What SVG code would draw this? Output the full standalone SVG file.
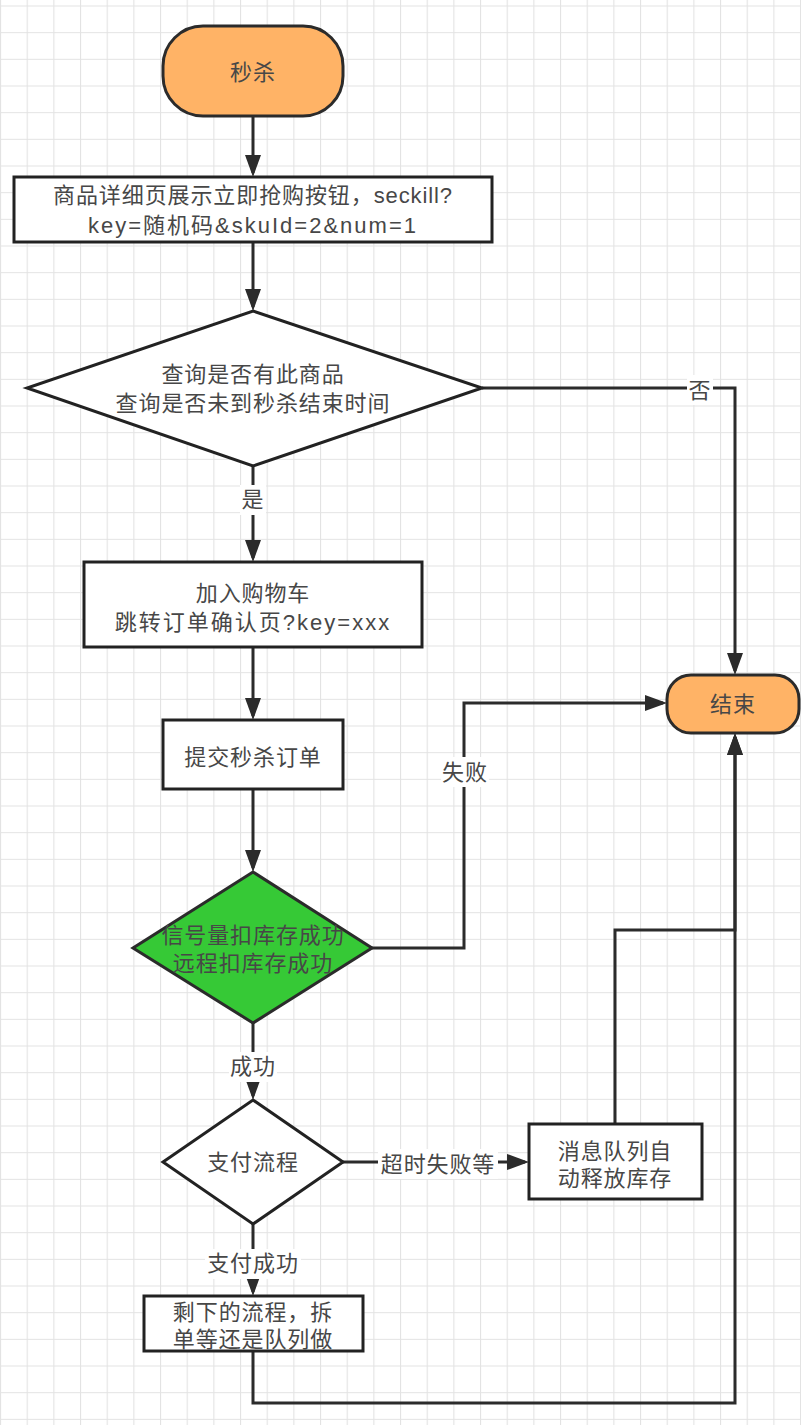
<svg xmlns="http://www.w3.org/2000/svg" width="801" height="1425" viewBox="0 0 801 1425">
  <defs>
    <pattern id="grid" width="26.667" height="26.667" patternUnits="userSpaceOnUse" x="0" y="5.5">
      <path d="M0 0.5 H26.667 M0.5 0 V26.667" fill="none" stroke="#e3e3e3" stroke-width="1.2"/>
    </pattern>
    <marker id="arrow" markerUnits="userSpaceOnUse" markerWidth="22" markerHeight="16" viewBox="0 0 22 16" refX="18" refY="8" orient="auto">
      <path d="M0 0 L22 8 L0 16 Z" fill="#2b2b2b"/>
    </marker>
    <style>
      .edge { fill: none; stroke: #2b2b2b; stroke-width: 3; }
      .box { fill: #ffffff; stroke: #222222; stroke-width: 3; }
      .term { fill: #ffb366; stroke: #2b2b2b; stroke-width: 3; }
      .green { fill: #36c936; stroke: #2b2b2b; stroke-width: 3; }
      text { font-family: "Liberation Sans", "Noto Sans CJK SC", sans-serif; font-size: 22px; letter-spacing: 0.9px; fill: #474747; text-anchor: middle; dominant-baseline: central; }
      .wide { letter-spacing: 2px; }
      .lbl-bg { fill: #ffffff; }
    </style>
  </defs>

  <!-- canvas grid -->
  <rect width="801" height="1425" fill="#ffffff"/>
  <rect width="801" height="1425" fill="url(#grid)"/>

  <!-- connectors -->
  <g id="connectors">
    <path class="edge" d="M253 116 V173" marker-end="url(#arrow)"/>
    <path class="edge" d="M253 242 V307" marker-end="url(#arrow)"/>
    <path class="edge" d="M253 466 V558" marker-end="url(#arrow)"/>
    <path class="edge" d="M253 647 V716" marker-end="url(#arrow)"/>
    <path class="edge" d="M253 789 V868" marker-end="url(#arrow)"/>
    <path class="edge" d="M482 388 H735 V671" marker-end="url(#arrow)"/>
    <path class="edge" d="M372 948 H464 V703 H663" marker-end="url(#arrow)"/>
    <path class="edge" d="M253 1023 V1096" marker-end="url(#arrow)"/>
    <path class="edge" d="M343 1162 H525" marker-end="url(#arrow)"/>
    <path class="edge" d="M253 1224 V1292" marker-end="url(#arrow)"/>
    <path class="edge" d="M615 1124 V930 H735 V737" marker-end="url(#arrow)"/>
    <path class="edge" d="M253 1351 V1403 H735 V737" marker-end="url(#arrow)"/>

    <!-- edge labels -->
    <rect class="lbl-bg" x="240" y="485" width="26" height="30"/>
    <text x="253" y="499">是</text>
    <rect class="lbl-bg" x="687" y="375" width="26" height="30"/>
    <text x="700" y="390">否</text>
    <rect class="lbl-bg" x="441" y="757" width="48" height="30"/>
    <text x="465" y="772">失败</text>
    <rect class="lbl-bg" x="229" y="1052" width="48" height="30"/>
    <text x="253" y="1066">成功</text>
    <rect class="lbl-bg" x="378" y="1149" width="120" height="30"/>
    <text x="438" y="1164">超时失败等</text>
    <rect class="lbl-bg" x="205" y="1249" width="96" height="30"/>
    <text x="253" y="1263">支付成功</text>
  </g>

  <!-- nodes -->
  <g id="start">
    <rect class="term" x="163" y="26" width="180" height="90" rx="40" ry="40"/>
    <text x="253" y="72">秒杀</text>
  </g>

  <g id="detail-page">
    <rect class="box" x="14" y="177" width="478" height="65"/>
    <text x="253" y="195">商品详细页展示立即抢购按钮，seckill?</text>
    <text class="wide" x="253" y="225">key=随机码&amp;skuId=2&amp;num=1</text>
  </g>

  <g id="check-item">
    <polygon class="box" points="253,311 482,388 253,466 27,388"/>
    <text x="253" y="374">查询是否有此商品</text>
    <text x="253" y="403">查询是否未到秒杀结束时间</text>
  </g>

  <g id="add-cart">
    <rect class="box" x="84" y="562" width="338" height="85"/>
    <text x="253" y="593">加入购物车</text>
    <text class="wide" x="253" y="622">跳转订单确认页?key=xxx</text>
  </g>

  <g id="submit-order">
    <rect class="box" x="163" y="720" width="180" height="69"/>
    <text x="253" y="757">提交秒杀订单</text>
  </g>

  <g id="deduct-stock">
    <polygon class="green" points="253,872 372,948 253,1023 133,948"/>
    <text x="253" y="935">信号量扣库存成功</text>
    <text x="253" y="963">远程扣库存成功</text>
  </g>

  <g id="end">
    <rect class="term" x="667" y="675" width="132" height="58" rx="24" ry="24"/>
    <text x="733" y="704">结束</text>
  </g>

  <g id="payment">
    <polygon class="box" points="253,1100 343,1162 253,1224 163,1162"/>
    <text x="253" y="1162">支付流程</text>
  </g>

  <g id="release-stock">
    <rect class="box" x="529" y="1124" width="173" height="75"/>
    <text x="615" y="1151">消息队列自</text>
    <text x="615" y="1178">动释放库存</text>
  </g>

  <g id="remaining">
    <rect class="box" x="144" y="1296" width="219" height="55"/>
    <text x="253" y="1312">剩下的流程，拆</text>
    <text x="253" y="1339">单等还是队列做</text>
  </g>
</svg>
